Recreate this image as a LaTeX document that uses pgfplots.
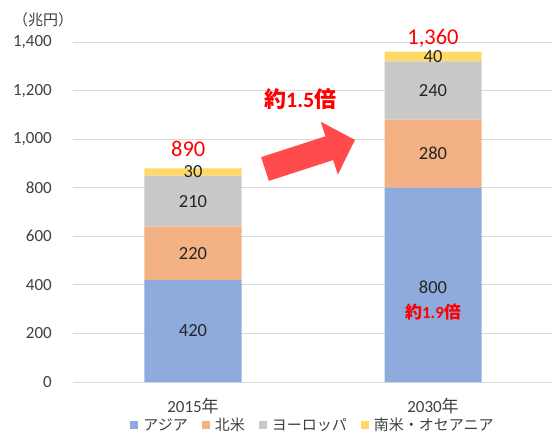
\documentclass[border=0pt]{standalone}
\usepackage{pgfplots}
\pgfplotsset{compat=1.18}
\usepackage{fontspec}
\setmainfont{Carlito}
\newfontfamily\jp{Noto Sans CJK JP}
\usetikzlibrary{arrows.meta}
\definecolor{asia}{HTML}{8FAADC}
\definecolor{na}{HTML}{F4B183}
\definecolor{eu}{HTML}{C9C9C9}
\definecolor{sa}{HTML}{FFD966}
\definecolor{gridc}{HTML}{D9D9D9}
\definecolor{tickc}{HTML}{404040}
\definecolor{arrowc}{HTML}{FF4B4B}
\pgfplotstableread{
x asia na eu sa
0 420 220 210 30
1 800 280 240 40
}\data
\pgfplotstableread{
x y label
0 210 420
0 530 220
0 745 210
0 865 30
1 392 800
1 940 280
1 1200 240
1 1340 40
}\labels
\pgfplotstableread{
x y label
-0.02 958 890
1 1416 1,360
}\totals
\begin{document}
\begin{tikzpicture}
\pgfplotsset{base/.style={
  scale only axis, width=480pt, height=340pt,
  xmin=-0.5, xmax=1.5, ymin=0, ymax=1400,
  at={(0,0)}, anchor=south west}}
\begin{axis}[base,
  ybar stacked, bar width=97pt,
  axis line style={draw=none},
  ymajorgrids, major grid style={gridc, line width=1pt},
  ytick distance=200, xtick={0,1},
  xticklabels={2015{\jp 年},2030{\jp 年}},
  major tick length=0pt,
  tick label style={font=\fontsize{17}{19}\selectfont, text=tickc},
  yticklabel style={inner sep=0pt, xshift=-21pt},
  xticklabel style={inner sep=0pt, yshift=-16pt},
  /pgf/number format/.cd, 1000 sep={,}, assume math mode=true, /pgfplots/.cd,
  legend columns=4,
  legend style={at={(0.50,-0.127)}, anchor=center, draw=none, fill=none,
    font=\jp\fontsize{15}{17}\selectfont, text=tickc,
    nodes={inner sep=2pt},
    /tikz/every odd column/.append style={column sep=3pt},
    /tikz/every even column/.append style={column sep=12pt}},
  legend image code/.code={\fill[#1] (0pt,-4pt) rectangle (8pt,4pt);},
]
\addplot[fill=asia, draw=none] table[x=x,y=asia]{\data};
\addplot[fill=na, draw=none] table[x=x,y=na]{\data};
\addplot[fill=eu, draw=none] table[x=x,y=eu]{\data};
\addplot[fill=sa, draw=none] table[x=x,y=sa]{\data};
\legend{アジア,北米,ヨーロッパ,南米・オセアニア}
\end{axis}
\begin{axis}[base, hide axis, clip=false]
\addplot[draw=none, mark=none, nodes near coords, point meta=explicit symbolic,
  every node near coord/.style={anchor=center, font=\fontsize{18.5}{20}\selectfont, text=black!85}]
  table[x=x,y=y,meta=label]{\labels};
\addplot[draw=none, mark=none, nodes near coords, point meta=explicit symbolic,
  every node near coord/.style={anchor=center, font=\fontsize{22.5}{24}\selectfont, text=red}]
  table[x=x,y=y,meta=label]{\totals};
\draw[arrowc, line width=25pt, -{Triangle[width=54pt,length=27pt]}]
  (axis cs:0.30,877) -- (axis cs:0.675,997);
\node[text=red, font=\bfseries\fontsize{22}{24}\selectfont] at (axis cs:0.447,1163) {{\jp 約}1.5{\jp 倍}};
\node[text=red, font=\bfseries\fontsize{17}{19}\selectfont] at (axis cs:1,290) {{\jp 約}1.9{\jp 倍}};
\node[anchor=west, text=tickc, font=\jp\fontsize{15}{17}\selectfont, inner sep=0pt] at (rel axis cs:-0.125,1.065) {（兆円）};
\end{axis}
\pgfresetboundingbox
\path (-73pt,-50pt) rectangle (479pt,382pt);
\end{tikzpicture}
\end{document}
